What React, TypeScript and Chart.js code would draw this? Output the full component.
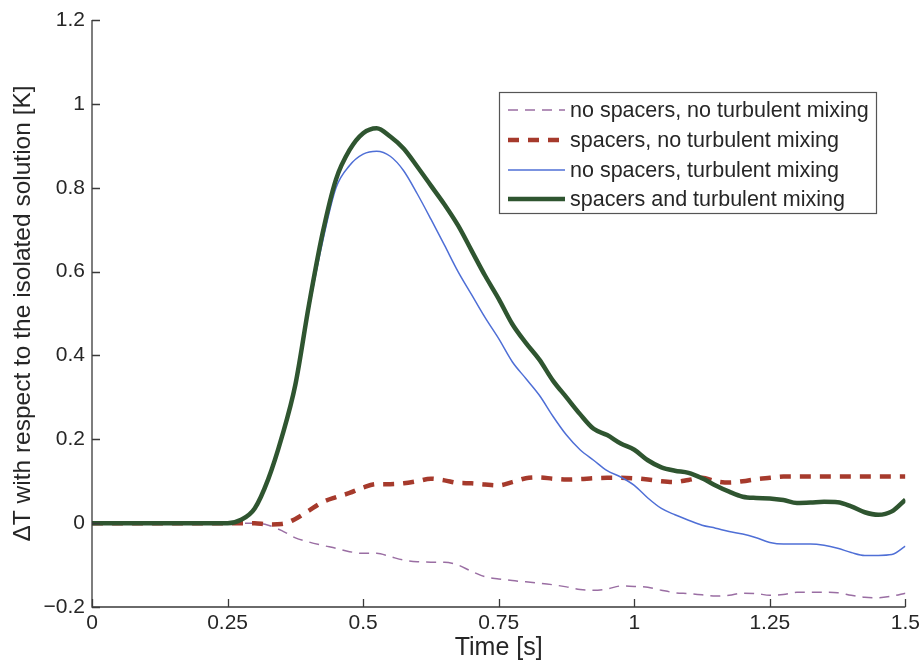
import React, { useEffect, useRef } from "react";
import { Chart, registerables } from "chart.js";

Chart.register(...registerables);

const times = [
  0, 0.25, 0.275, 0.3, 0.325, 0.35, 0.375, 0.4, 0.425, 0.45, 0.475, 0.5, 0.525, 0.55, 0.575,
  0.6, 0.625, 0.65, 0.675, 0.7, 0.725, 0.75, 0.775, 0.8, 0.825, 0.85, 0.875, 0.9, 0.925, 0.95,
  0.975, 1.0, 1.025, 1.05, 1.075, 1.1, 1.125, 1.15, 1.175, 1.2, 1.225, 1.25, 1.275, 1.3, 1.325,
  1.35, 1.375, 1.4, 1.425, 1.45, 1.475, 1.5,
];

const noSpacersNoMixing = [
  0, 0, 0, 0, -0.005, -0.018, -0.035, -0.045, -0.053, -0.06, -0.068, -0.072, -0.072, -0.08, -0.088,
  -0.092, -0.093, -0.093, -0.1, -0.115, -0.128, -0.133, -0.137, -0.14, -0.143, -0.147, -0.152, -0.158, -0.16, -0.157,
  -0.15, -0.151, -0.153, -0.16, -0.166, -0.168, -0.171, -0.174, -0.172, -0.167, -0.168, -0.172, -0.17, -0.165, -0.165,
  -0.165, -0.166, -0.172, -0.177, -0.178, -0.174, -0.167,
];

const spacersNoMixing = [
  0, 0, 0, 0, -0.003, -0.002, 0.01, 0.03, 0.05, 0.062, 0.072, 0.085, 0.093, 0.093, 0.095,
  0.1, 0.106, 0.102, 0.096, 0.095, 0.092, 0.09, 0.098, 0.107, 0.109, 0.106, 0.104, 0.105, 0.107, 0.108,
  0.108, 0.107, 0.104, 0.1, 0.098, 0.103, 0.108, 0.1, 0.097, 0.1, 0.105, 0.108, 0.111, 0.111, 0.111,
  0.111, 0.111, 0.111, 0.111, 0.111, 0.111, 0.111,
];

const noSpacersMixing = [
  0, 0, 0.008, 0.035, 0.105, 0.205, 0.33, 0.51, 0.67, 0.8, 0.853, 0.88, 0.887, 0.875, 0.84,
  0.785, 0.725, 0.663, 0.6, 0.545, 0.49, 0.44, 0.385, 0.345, 0.305, 0.255, 0.21, 0.175, 0.15, 0.125,
  0.11, 0.09, 0.06, 0.035, 0.02, 0.007, -0.005, -0.012, -0.02, -0.026, -0.035, -0.046, -0.05, -0.05, -0.05,
  -0.053, -0.06, -0.07, -0.077, -0.077, -0.075, -0.055,
];

const spacersAndMixing = [
  0, 0, 0.008, 0.035, 0.105, 0.205, 0.33, 0.52, 0.69, 0.82, 0.89, 0.93, 0.942, 0.922, 0.893,
  0.85, 0.805, 0.76, 0.71, 0.65, 0.59, 0.535, 0.475, 0.43, 0.39, 0.34, 0.3, 0.26, 0.225, 0.21,
  0.19, 0.175, 0.15, 0.133, 0.125, 0.12, 0.107, 0.09, 0.075, 0.063, 0.06, 0.059, 0.055, 0.048, 0.049,
  0.051, 0.05, 0.04, 0.026, 0.02, 0.028, 0.056,
];

const seriesLabels = [
  "no spacers, no turbulent mixing",
  "spacers, no turbulent mixing",
  "no spacers, turbulent mixing",
  "spacers and turbulent mixing",
];

const xTicks = [0, 0.25, 0.5, 0.75, 1, 1.25, 1.5];
const yTicks = [-0.2, 0, 0.2, 0.4, 0.6, 0.8, 1, 1.2];

const FONT = "'Liberation Sans', Arial, Helvetica, sans-serif";
const TEXT = "#262626";
const AXIS = "#3a3a3a";

const styles = [
  { color: "#9a6ea3", width: 1.5, dash: [10, 7] },
  { color: "#a63a2c", width: 4.5, dash: [11, 9] },
  { color: "#4f6fd6", width: 1.5, dash: [] as number[] },
  { color: "#2f5530", width: 4.5, dash: [] as number[] },
];

const fmt = (v: number) => {
  const r = Math.round(v * 100) / 100;
  const s = String(r);
  return r < 0 ? "\u2212" + s.slice(1) : s;
};

const overlay = {
  id: "overlay",
  afterDatasetsDraw(chart: any) {
    const { ctx, chartArea, scales } = chart;
    const xs = scales.x;
    const ys = scales.y;
    const { left, right, top, bottom } = chartArea;
    ctx.save();
    ctx.strokeStyle = AXIS;
    ctx.lineWidth = 1.3;
    ctx.setLineDash([]);
    ctx.beginPath();
    ctx.moveTo(left, top);
    ctx.lineTo(left, bottom);
    ctx.lineTo(right, bottom);
    ctx.stroke();
    ctx.beginPath();
    xTicks.forEach((t) => {
      const px = Math.round(xs.getPixelForValue(t)) + 0.5;
      ctx.moveTo(px, bottom);
      ctx.lineTo(px, bottom - 8);
    });
    yTicks.forEach((t) => {
      const py = Math.round(ys.getPixelForValue(t)) + 0.5;
      ctx.moveTo(left, py);
      ctx.lineTo(left + 8, py);
    });
    ctx.stroke();

    // legend
    const bx = 499.5, by = 92.5, bw = 377, bh = 121;
    ctx.fillStyle = "#ffffff";
    ctx.fillRect(bx, by, bw, bh);
    ctx.strokeStyle = "#555555";
    ctx.lineWidth = 1.2;
    ctx.strokeRect(bx, by, bw, bh);
    const rows = [110, 140, 170, 199];
    ctx.font = `21.5px ${FONT}`;
    ctx.textBaseline = "middle";
    ctx.textAlign = "left";
    seriesLabels.forEach((lab, i) => {
      const st = styles[i];
      ctx.strokeStyle = st.color;
      ctx.lineWidth = st.width;
      ctx.setLineDash(st.dash);
      ctx.beginPath();
      ctx.moveTo(508, rows[i]);
      ctx.lineTo(565, rows[i]);
      ctx.stroke();
      ctx.setLineDash([]);
      ctx.fillStyle = TEXT;
      ctx.fillText(lab, 570, rows[i] + 1);
    });
    ctx.restore();
  },
};

export default function App() {
  const ref = useRef<HTMLCanvasElement | null>(null);
  useEffect(() => {
    document.body.style.margin = "0";
    const canvas = ref.current;
    if (!canvas) return;
    const all = [noSpacersNoMixing, spacersNoMixing, noSpacersMixing, spacersAndMixing];
    const datasets = all.map((vals, i) => ({
      label: seriesLabels[i],
      data: times.map((t, j) => ({ x: t, y: vals[j] })),
      borderColor: styles[i].color,
      borderWidth: styles[i].width,
      borderDash: styles[i].dash,
      pointRadius: 0,
      fill: false,
      cubicInterpolationMode: "monotone" as const,
      order: 3 - i,
    }));
    const chart = new Chart(canvas, {
      type: "line",
      data: { datasets },
      options: {
        animation: false,
        responsive: false,
        maintainAspectRatio: false,
        layout: { padding: { top: 20, right: 18, left: 0, bottom: 0 } },
        plugins: { legend: { display: false }, tooltip: { enabled: false } },
        scales: {
          x: {
            type: "linear",
            min: 0,
            max: 1.5,
            grid: { display: false, drawTicks: false },
            border: { display: false },
            afterBuildTicks: (s: any) => {
              s.ticks = xTicks.map((v) => ({ value: v }));
            },
            afterFit: (s: any) => {
              s.height = 56;
            },
            ticks: {
              color: TEXT,
              font: { family: FONT, size: 21 },
              padding: 4,
              maxRotation: 0,
              autoSkip: false,
              callback: (v: any) => fmt(Number(v)),
            },
            title: {
              display: true,
              text: "Time [s]",
              color: TEXT,
              font: { family: FONT, size: 25 },
              padding: { top: 0, bottom: 0 },
            },
          },
          y: {
            type: "linear",
            min: -0.2,
            max: 1.2,
            grid: { display: false, drawTicks: false },
            border: { display: false },
            afterBuildTicks: (s: any) => {
              s.ticks = yTicks.map((v) => ({ value: v }));
            },
            afterFit: (s: any) => {
              s.width = 92;
            },
            ticks: {
              color: TEXT,
              font: { family: FONT, size: 21 },
              padding: 7,
              autoSkip: false,
              callback: (v: any) => fmt(Number(v)),
            },
            title: {
              display: true,
              text: "\u0394T with respect to the isolated solution [K]",
              color: TEXT,
              font: { family: FONT, size: 24.5 },
              padding: { top: 9, bottom: 0 },
            },
          },
        },
      },
      plugins: [overlay],
    });
    return () => chart.destroy();
  }, []);
  return (
    <div style={{ width: 924, height: 663, background: "#fff" }}>
      <canvas ref={ref} width={924} height={663} style={{ display: "block" }} />
    </div>
  );
}
